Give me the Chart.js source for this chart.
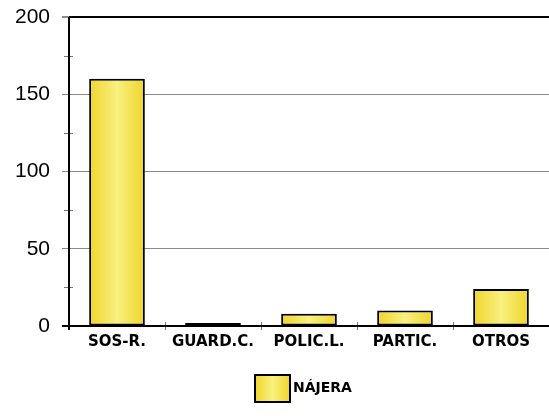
<!DOCTYPE html>
<html><head><meta charset="utf-8">
<script src="https://cdn.jsdelivr.net/npm/chart.js@4"></script>
<style>html,body{margin:0;padding:0;background:#fff}#wrap{width:549px;height:416px}</style>
</head><body><div id="wrap"><canvas id="c" width="549" height="416"></canvas></div>
<script>
const categories = ["SOS-R.", "GUARD.C.", "POLIC.L.", "PARTIC.", "OTROS"];
const seriesName = "NÁJERA";
const seriesValues = [160, 2, 8, 10, 24];
const yTicks = [0, 50, 100, 150, 200];
const yMinorTicks = [25, 75, 125, 175];

function grad(ctx, x0, x1) {
  const g = ctx.createLinearGradient(x0, 0, x1, 0);
  g.addColorStop(0, '#EFD52C');
  g.addColorStop(0.5, '#F9F07E');
  g.addColorStop(1, '#EFD52C');
  return g;
}

const extras = {
  id: 'extras',
  afterDraw(chart) {
    const ctx = chart.ctx, ya = chart.scales.y, xa = chart.scales.x, ca = chart.chartArea;
    ctx.save();
    ctx.strokeStyle = '#777'; ctx.lineWidth = 1;
    yMinorTicks.forEach(v => {
      const y = Math.round(ya.getPixelForValue(v)) + 0.5;
      ctx.beginPath(); ctx.moveTo(ca.left - 5, y); ctx.lineTo(ca.left + 4, y); ctx.stroke();
    });
    for (let i = 1; i < categories.length; i++) {
      const x = Math.round((xa.getPixelForValue(i - 1) + xa.getPixelForValue(i)) / 2) + 0.5;
      ctx.beginPath(); ctx.moveTo(x, ca.bottom - 4); ctx.lineTo(x, ca.bottom + 4); ctx.stroke();
    }
    ctx.strokeStyle = '#000'; ctx.lineWidth = 2;
    ctx.beginPath(); ctx.moveTo(ca.left, ca.top); ctx.lineTo(ca.left, ca.bottom + 4); ctx.stroke();
    ctx.beginPath(); ctx.moveTo(ca.left - 7, ca.bottom); ctx.lineTo(ca.right, ca.bottom); ctx.stroke();
    const bx = 255, by = 375, bw = 35, bh = 27;
    ctx.fillStyle = grad(ctx, bx, bx + bw);
    ctx.fillRect(bx, by, bw, bh);
    ctx.strokeStyle = '#000'; ctx.lineWidth = 2;
    ctx.strokeRect(bx, by, bw, bh);
    ctx.fillStyle = '#000';
    ctx.font = 'bold 14px "DejaVu Sans", sans-serif';
    ctx.textBaseline = 'middle'; ctx.textAlign = 'left';
    ctx.fillText(chart.data.datasets[0].label, bx + bw + 3, by + bh / 2);
    ctx.restore();
  }
};

new Chart(document.getElementById('c'), {
  type: 'bar',
  data: {
    labels: categories,
    datasets: [{
      label: seriesName,
      data: seriesValues,
      backgroundColor(context) {
        const chart = context.chart;
        if (!chart.chartArea || context.dataIndex === undefined) return '#F2DE5A';
        const xc = chart.scales.x.getPixelForValue(context.dataIndex);
        return grad(chart.ctx, xc - 28, xc + 28);
      },
      borderColor: '#000',
      borderWidth: 2,
      borderSkipped: false,
      categoryPercentage: 1,
      barPercentage: 0.58
    }]
  },
  options: {
    responsive: false,
    animation: false,
    layout: { padding: { top: 17, right: 0, left: 0, bottom: 60 } },
    plugins: { legend: { display: false }, tooltip: { enabled: false } },
    scales: {
      x: {
        afterFit(scale) { scale.height = 30; scale.paddingLeft = 0; scale.paddingRight = 0; },
        grid: { display: false, tickLength: 0 },
        border: { display: false },
        ticks: { color: '#000', padding: 7, maxRotation: 0, autoSkip: false, font: { family: '"DejaVu Sans", sans-serif', size: 15, weight: 'bold' } }
      },
      y: {
        min: 0, max: 200,
        afterBuildTicks(scale) { scale.ticks = yTicks.map(v => ({ value: v })); },
        afterFit(scale) { scale.width = 69; scale.paddingTop = 0; scale.paddingBottom = 0; },
        grid: {
          color(ctx) { return ctx.tick && ctx.tick.value === 200 ? '#000' : '#8a8a8a'; },
          lineWidth(ctx) { return ctx.tick && ctx.tick.value === 200 ? 2 : 1; },
          tickLength: 7,
          tickColor: '#8a8a8a'
        },
        border: { display: false },
        ticks: { color: '#000', padding: 12, font: { family: '"Liberation Sans", Arial, sans-serif', size: 21 } }
      }
    }
  },
  plugins: [extras]
});
</script></body></html>
